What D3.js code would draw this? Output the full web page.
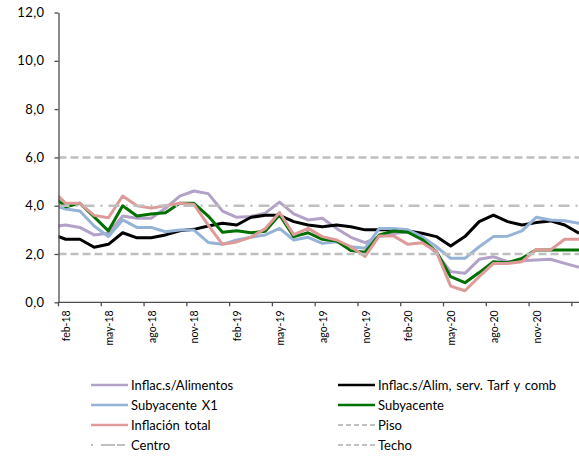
<!DOCTYPE html>
<html>
<head>
<meta charset="utf-8">
<script src="https://cdn.jsdelivr.net/npm/d3@7"></script>
<style>
  body { margin: 0; background: #fff; }
  text { font-family: Lato, "Open Sans", sans-serif; fill: #000; }
</style>
</head>
<body>
<svg id="chart" width="579" height="458"></svg>
<script>
// --- DATOS ---
const months = [
  "ene-18","feb-18","mar-18","abr-18","may-18","jun-18","jul-18","ago-18","sep-18","oct-18","nov-18","dic-18",
  "ene-19","feb-19","mar-19","abr-19","may-19","jun-19","jul-19","ago-19","sep-19","oct-19","nov-19","dic-19",
  "ene-20","feb-20","mar-20","abr-20","may-20","jun-20","jul-20","ago-20","sep-20","oct-20","nov-20","dic-20",
  "ene-21","feb-21"
];
const tickMonths = ["feb-18","may-18","ago-18","nov-18","feb-19","may-19","ago-19","nov-19","feb-20","may-20","ago-20","nov-20","feb-21"];
const yTicks = [0, 2, 4, 6, 8, 10, 12];

const sinAlimentos = [3.12,3.2,3.1,2.79,2.86,3.57,3.48,3.48,3.89,4.4,4.61,4.5,3.78,3.52,3.55,3.69,4.15,3.66,3.41,3.48,3.06,2.69,2.47,2.72,2.85,2.92,2.58,2.03,1.27,1.2,1.78,1.89,1.68,1.72,1.75,1.78,1.61,1.45];
const sinAlimServTarf = [2.83,2.61,2.61,2.28,2.4,2.88,2.67,2.67,2.79,2.96,3.02,3.16,3.27,3.2,3.52,3.6,3.6,3.34,3.2,3.13,3.2,3.13,3.0,3.0,3.0,2.95,2.86,2.72,2.33,2.72,3.34,3.61,3.34,3.2,3.3,3.37,3.2,2.86];
const subyacenteX1 = [4.06,3.86,3.78,3.16,2.72,3.41,3.1,3.1,2.92,2.99,2.99,2.48,2.4,2.58,2.69,2.79,3.06,2.58,2.69,2.44,2.51,2.3,2.24,3.06,3.06,3.0,2.72,2.3,1.82,1.82,2.3,2.72,2.74,2.96,3.52,3.41,3.38,3.27];
const subyacente = [4.45,3.96,4.1,3.54,2.96,4.0,3.57,3.66,3.71,4.1,4.1,3.57,2.9,2.96,2.88,2.94,3.62,2.72,2.88,2.61,2.54,2.14,2.07,2.79,2.95,2.9,2.6,2.1,1.06,0.81,1.23,1.68,1.64,1.82,2.17,2.17,2.17,2.17];
const inflacionTotal = [4.7,4.1,4.1,3.6,3.5,4.4,4.0,3.9,4.0,4.1,4.05,3.2,2.4,2.5,2.7,3.05,3.72,2.8,3.06,2.72,2.58,2.3,1.9,2.75,2.75,2.4,2.47,2.1,0.67,0.48,1.06,1.61,1.61,1.68,2.19,2.17,2.61,2.61];

const refNames = ["Piso", "Centro", "Techo"];
const refValues = [2, 4, 6];

// --- ESTILOS ---
// orden de la serie = orden de dibujo (como en la planilla original)
const seriesList = [
  { name: "Inflac.s/Alimentos", values: sinAlimentos, color: "#B3A2C7" },
  { name: "Inflac.s/Alim, serv. Tarf y comb", values: sinAlimServTarf, color: "#000000" },
  { name: "Subyacente X1", values: subyacenteX1, color: "#95B3D7" },
  { name: "Subyacente", values: subyacente, color: "#007000" },
  { name: "Inflación total", values: inflacionTotal, color: "#DE9A98" }
];
const refDash = { "Piso": "8,4", "Techo": "8,4", "Centro": "11,6,2,6" };
const legendDash = { "Piso": "5,3", "Techo": "5,3", "Centro": "2,8,14" };
const refColor = "#BFBFBF";
const axisColor = "#4D4D4D";

// --- CONFIGURACIÓN ---
const W = 579, H = 458;
const plot = { left: 58.5, top: 12.5, bottom: 302.3 };
const step = 14.26;

const svg = d3.select("#chart");

const x = d3.scaleBand()
  .domain(months)
  .range([plot.left - step, plot.left - step + months.length * step]);
const cx = m => x(m) + x.bandwidth() / 2;
const y = d3.scaleLinear().domain([0, 12]).range([plot.bottom, plot.top]);

svg.append("defs").append("clipPath").attr("id", "clip")
  .append("rect").attr("x", plot.left).attr("y", 0).attr("width", W - plot.left).attr("height", H);

// --- SERIES ---
const line = d3.line().x((d, i) => cx(months[i])).y(d => y(d));
const plotG = svg.append("g").attr("clip-path", "url(#clip)");
seriesList.forEach(s => {
  plotG.append("path")
    .datum(s.values)
    .attr("d", line)
    .attr("fill", "none")
    .attr("stroke", s.color)
    .attr("stroke-width", 3)
    .attr("stroke-linejoin", "round");
});

// líneas de referencia
refValues.forEach((v, i) => {
  plotG.append("line")
    .attr("x1", plot.left).attr("x2", W)
    .attr("y1", y(v)).attr("y2", y(v))
    .attr("stroke", refColor)
    .attr("stroke-width", 2.5)
    .attr("stroke-dasharray", refDash[refNames[i]]);
});

// --- EJES ---
const yAxis = svg.append("g")
  .attr("transform", `translate(${plot.left},0)`)
  .call(d3.axisLeft(y).tickValues(yTicks)
    .tickFormat(d => d3.format(".1f")(d).replace(".", ","))
    .tickSize(4).tickSizeOuter(0).tickPadding(10));
yAxis.select(".domain").attr("stroke", axisColor).attr("stroke-width", 1.3);
yAxis.selectAll(".tick line").attr("stroke", axisColor).attr("stroke-width", 1.3);
yAxis.selectAll(".tick text").style("font-size", "13px").style("font-family", "Lato, sans-serif")
  .attr("fill", "#000").style("letter-spacing", "0.4px");

svg.append("line")
  .attr("x1", plot.left).attr("x2", W)
  .attr("y1", plot.bottom).attr("y2", plot.bottom)
  .attr("stroke", axisColor).attr("stroke-width", 1.3);

svg.selectAll(".xtick").data(tickMonths).enter().append("line")
  .attr("class", "xtick")
  .attr("x1", d => x(d)).attr("x2", d => x(d))
  .attr("y1", plot.bottom).attr("y2", plot.bottom + 4)
  .attr("stroke", axisColor).attr("stroke-width", 1.3);

svg.selectAll(".xlabel").data(tickMonths.filter(m => cx(m) + 5 <= W)).enter().append("text")
  .attr("class", "xlabel")
  .attr("transform", d => `translate(${cx(d) + 0.5},${plot.bottom + 8}) rotate(-90)`)
  .attr("text-anchor", "end")
  .attr("dominant-baseline", "central")
  .style("font-size", "10.5px")
  .text(d => d);

// --- LEYENDA ---
const legendItems = [
  { name: seriesList[0].name, color: seriesList[0].color, col: 0, row: 0 },
  { name: seriesList[1].name, color: seriesList[1].color, col: 1, row: 0 },
  { name: seriesList[2].name, color: seriesList[2].color, col: 0, row: 1 },
  { name: seriesList[3].name, color: seriesList[3].color, col: 1, row: 1 },
  { name: seriesList[4].name, color: seriesList[4].color, col: 0, row: 2 },
  { name: "Piso", color: refColor, dash: legendDash["Piso"], col: 1, row: 2 },
  { name: "Centro", color: refColor, dash: legendDash["Centro"], col: 0, row: 3 },
  { name: "Techo", color: refColor, dash: legendDash["Techo"], col: 1, row: 3 }
];
const legendX = [91, 338];
const legend = svg.append("g");
legendItems.forEach(it => {
  const gx = legendX[it.col], gy = 385 + it.row * 20;
  legend.append("line")
    .attr("x1", gx).attr("x2", gx + 37)
    .attr("y1", gy).attr("y2", gy)
    .attr("stroke", it.color)
    .attr("stroke-width", it.dash ? 2 : 2.5)
    .attr("stroke-dasharray", it.dash || null);
  legend.append("text")
    .attr("x", gx + 40).attr("y", gy)
    .attr("dominant-baseline", "central")
    .style("font-size", "13px")
    .style("word-spacing", "1.5px")
    .text(it.name);
});
</script>
</body>
</html>
